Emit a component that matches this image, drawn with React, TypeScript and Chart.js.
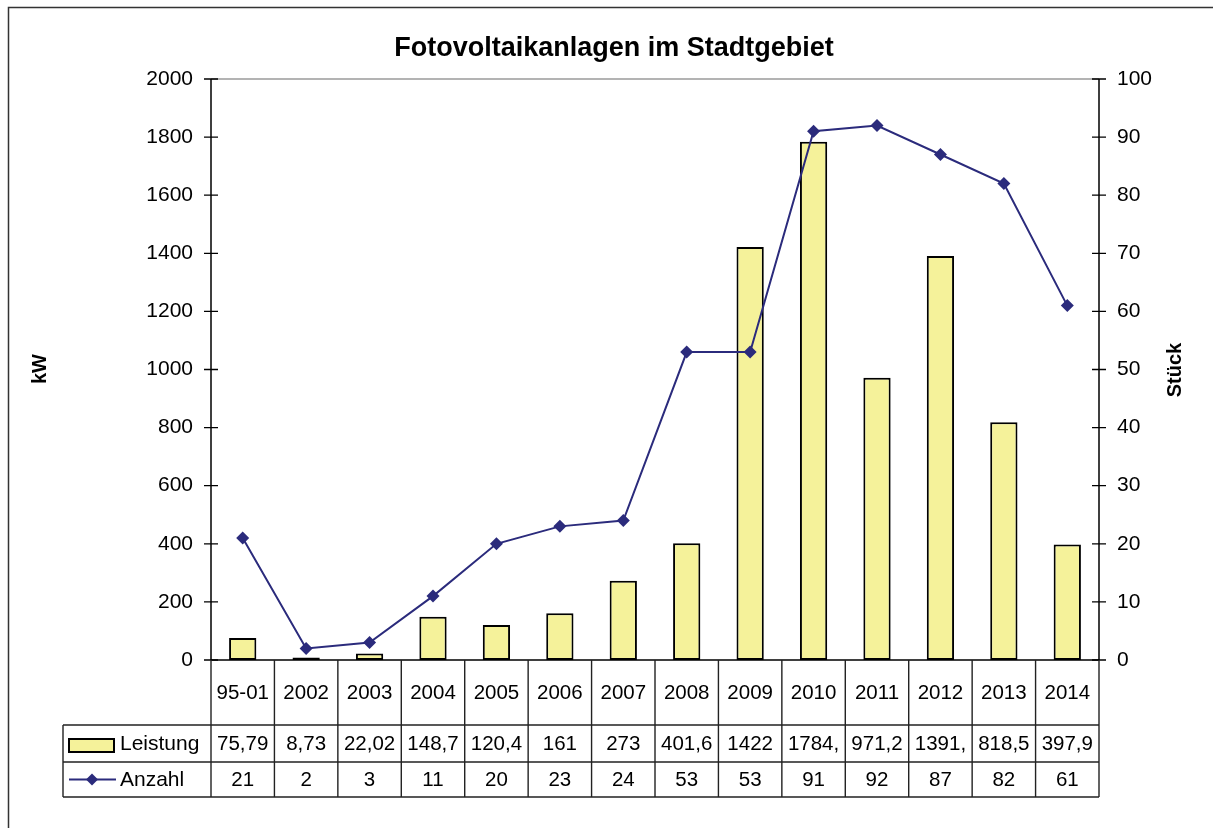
import React, { useEffect, useRef } from 'react';
import { Chart, registerables } from 'chart.js';

Chart.register(...registerables);

const categories = ['95-01', '2002', '2003', '2004', '2005', '2006', '2007', '2008', '2009', '2010', '2011', '2012', '2013', '2014'];
const leistung = [75.79, 8.73, 22.02, 148.7, 120.4, 161, 273, 401.6, 1422, 1784, 971.2, 1391, 818.5, 397.9];
const leistungLabels = ['75,79', '8,73', '22,02', '148,7', '120,4', '161', '273', '401,6', '1422', '1784,', '971,2', '1391,', '818,5', '397,9'];
const anzahl = [21, 2, 3, 11, 20, 23, 24, 53, 53, 91, 92, 87, 82, 61];
const anzahlLabels = ['21', '2', '3', '11', '20', '23', '24', '53', '53', '91', '92', '87', '82', '61'];

const TITLE = 'Fotovoltaikanlagen im Stadtgebiet';
const Y_TITLE = 'kW';
const Y1_TITLE = 'Stück';
const SERIES_BAR = 'Leistung';
const SERIES_LINE = 'Anzahl';

const BAR_COLOR = '#F5F29A';
const LINE_COLOR = '#2B2B7C';
const FONT = "'Liberation Sans', Arial, Helvetica, sans-serif";

const W = 1213;
const H = 828;
const PLOT_LEFT = 211;
const PLOT_RIGHT = 1099;
const PLOT_TOP = 79;
const PLOT_BOTTOM = 660;
const ROW1 = 725;
const ROW2 = 762;
const ROW3 = 797;
const TABLE_LEFT = 63;

function diamond(ctx: CanvasRenderingContext2D, x: number, y: number, r: number) {
  ctx.beginPath();
  ctx.moveTo(x, y - r);
  ctx.lineTo(x + r, y);
  ctx.lineTo(x, y + r);
  ctx.lineTo(x - r, y);
  ctx.closePath();
  ctx.fill();
}

const decorPlugin = {
  id: 'decor',
  beforeDraw(chart: any) {
    const ctx = chart.ctx as CanvasRenderingContext2D;
    ctx.save();
    ctx.fillStyle = '#fff';
    ctx.fillRect(0, 0, chart.width, chart.height);
    ctx.restore();
  },
  afterDraw(chart: any) {
    const ctx = chart.ctx as CanvasRenderingContext2D;
    const { left, right, top, bottom } = chart.chartArea;
    const yS = chart.scales.y;
    const y1S = chart.scales.y1;
    const n = categories.length;
    const cw = (right - left) / n;
    ctx.save();

    // plot top border
    ctx.strokeStyle = '#9a9a9a';
    ctx.lineWidth = 1.5;
    ctx.beginPath();
    ctx.moveTo(left, top);
    ctx.lineTo(right, top);
    ctx.stroke();

    // axes
    ctx.strokeStyle = '#000';
    ctx.lineWidth = 1.5;
    ctx.beginPath();
    ctx.moveTo(left, top);
    ctx.lineTo(left, bottom);
    ctx.moveTo(right, top);
    ctx.lineTo(right, bottom);
    ctx.moveTo(left, bottom);
    ctx.lineTo(right, bottom);
    ctx.stroke();

    // crossing ticks
    ctx.lineWidth = 1.3;
    ctx.beginPath();
    yS.ticks.forEach((t: any) => {
      const py = yS.getPixelForValue(t.value);
      ctx.moveTo(left - 7, py);
      ctx.lineTo(left + 7, py);
    });
    y1S.ticks.forEach((t: any) => {
      const py = y1S.getPixelForValue(t.value);
      ctx.moveTo(right - 7, py);
      ctx.lineTo(right + 7, py);
    });
    ctx.stroke();

    // table grid
    ctx.strokeStyle = '#222';
    ctx.lineWidth = 1.4;
    ctx.beginPath();
    for (let i = 0; i <= n; i++) {
      const px = left + i * cw;
      ctx.moveTo(px, bottom);
      ctx.lineTo(px, ROW3);
    }
    ctx.moveTo(TABLE_LEFT, ROW1);
    ctx.lineTo(TABLE_LEFT, ROW3);
    [ROW1, ROW2, ROW3].forEach((ry) => {
      ctx.moveTo(TABLE_LEFT, ry);
      ctx.lineTo(right, ry);
    });
    ctx.stroke();

    // table text
    ctx.fillStyle = '#000';
    ctx.font = `20.5px ${FONT}`;
    ctx.textAlign = 'center';
    ctx.textBaseline = 'middle';
    for (let i = 0; i < n; i++) {
      const cx = left + (i + 0.5) * cw;
      ctx.fillText(categories[i], cx, (bottom + ROW1) / 2 + 1);
      ctx.fillText(leistungLabels[i], cx, (ROW1 + ROW2) / 2 + 1);
      ctx.fillText(anzahlLabels[i], cx, (ROW2 + ROW3) / 2 + 1);
    }
    ctx.textAlign = 'left';
    ctx.font = `21px ${FONT}`;
    ctx.fillText(SERIES_BAR, 120, (ROW1 + ROW2) / 2 + 1);
    ctx.fillText(SERIES_LINE, 120, (ROW2 + ROW3) / 2 + 1);

    // legend symbols
    ctx.fillStyle = BAR_COLOR;
    ctx.fillRect(69, 739, 45, 13);
    ctx.strokeStyle = '#000';
    ctx.lineWidth = 2;
    ctx.strokeRect(69, 739, 45, 13);
    ctx.strokeStyle = LINE_COLOR;
    ctx.lineWidth = 2;
    ctx.beginPath();
    ctx.moveTo(69, 779.5);
    ctx.lineTo(116, 779.5);
    ctx.stroke();
    ctx.fillStyle = LINE_COLOR;
    diamond(ctx, 92, 779.5, 6);

    // title
    ctx.fillStyle = '#000';
    ctx.font = `bold 27px ${FONT}`;
    ctx.textAlign = 'center';
    ctx.textBaseline = 'middle';
    ctx.fillText(TITLE, 614, 49);

    // axis titles
    ctx.font = `bold 20px ${FONT}`;
    ctx.save();
    ctx.translate(40, 369);
    ctx.rotate(-Math.PI / 2);
    ctx.fillText(Y_TITLE, 0, 0);
    ctx.restore();
    ctx.save();
    ctx.translate(1175, 370);
    ctx.rotate(-Math.PI / 2);
    ctx.fillText(Y1_TITLE, 0, 0);
    ctx.restore();

    // outer border (top & left visible)
    ctx.strokeStyle = '#333';
    ctx.lineWidth = 1.5;
    ctx.beginPath();
    ctx.moveTo(8.5, H);
    ctx.lineTo(8.5, 7.5);
    ctx.lineTo(W, 7.5);
    ctx.stroke();

    ctx.restore();
  },
};

export default function App() {
  const ref = useRef<HTMLCanvasElement | null>(null);
  useEffect(() => {
    if (!ref.current) return;
    const chart = new Chart(ref.current, {
      type: 'bar',
      data: {
        labels: categories,
        datasets: [
          {
            type: 'bar',
            label: SERIES_BAR,
            data: leistung,
            yAxisID: 'y',
            backgroundColor: BAR_COLOR,
            borderColor: '#000',
            borderWidth: 2,
            borderSkipped: false,
            barPercentage: 0.43,
            categoryPercentage: 1,
            order: 1,
          },
          {
            type: 'line',
            label: SERIES_LINE,
            data: anzahl,
            yAxisID: 'y1',
            borderColor: LINE_COLOR,
            backgroundColor: LINE_COLOR,
            borderWidth: 2,
            pointStyle: 'rectRot',
            pointRadius: 6.5,
            pointBorderWidth: 0,
            tension: 0,
            order: 0,
          } as any,
        ],
      },
      options: {
        responsive: false,
        animation: false,
        devicePixelRatio: 1,
        layout: { padding: { top: PLOT_TOP, bottom: H - PLOT_BOTTOM, left: 0, right: 0 } },
        plugins: {
          legend: { display: false },
          title: { display: false },
          tooltip: { enabled: false },
        },
        scales: {
          x: { display: false, offset: true },
          y: {
            position: 'left',
            min: 0,
            max: 2000,
            ticks: {
              stepSize: 200, padding: 18, color: '#000', font: { family: FONT, size: 21 },
              callback: (v: any) => String(v),
            },
            grid: { display: false, drawTicks: false },
            border: { display: false },
            afterFit: (s: any) => { s.width = PLOT_LEFT; },
          },
          y1: {
            position: 'right',
            min: 0,
            max: 100,
            ticks: {
              stepSize: 10, padding: 18, color: '#000', font: { family: FONT, size: 21 },
              callback: (v: any) => String(v),
            },
            grid: { display: false, drawTicks: false },
            border: { display: false },
            afterFit: (s: any) => { s.width = W - PLOT_RIGHT; },
          },
        },
      },
      plugins: [decorPlugin],
    });
    return () => chart.destroy();
  }, []);
  return (
    <div style={{ position: 'absolute', left: 0, top: 0, width: W, height: H, background: '#fff' }}>
      <canvas ref={ref} width={W} height={H} style={{ display: 'block' }} />
    </div>
  );
}
